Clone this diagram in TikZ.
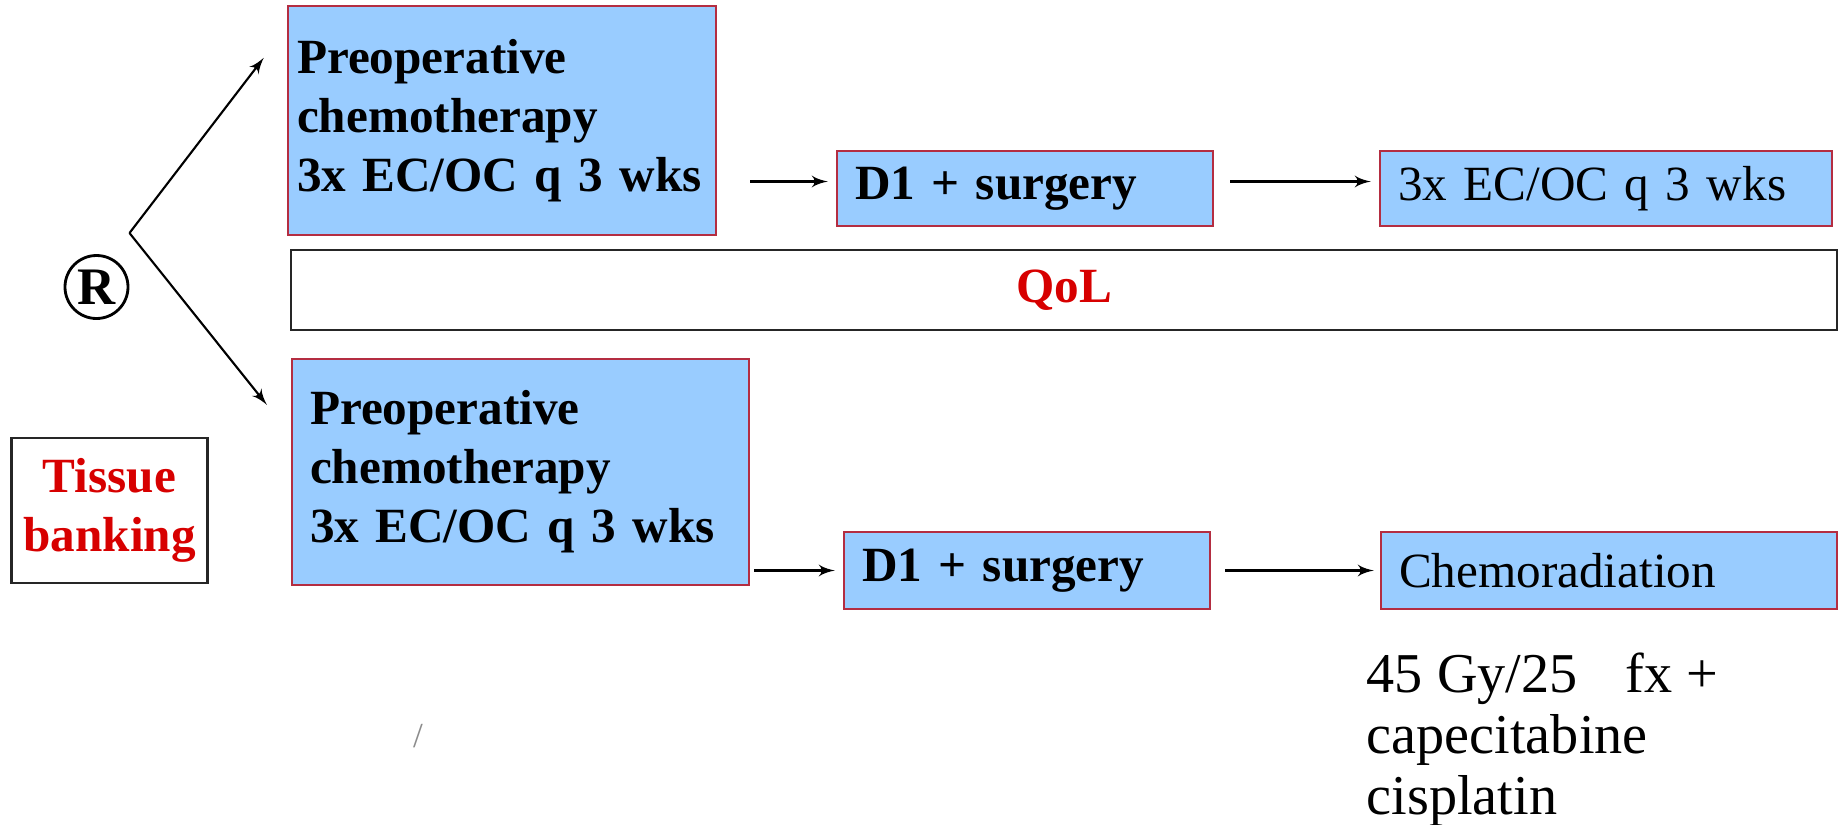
\documentclass[tikz,border=0pt]{standalone}
\usepackage{fontspec}
\setmainfont{Liberation Serif}
\usepackage{tikz}
\usetikzlibrary{arrows, positioning}
\definecolor{boxblue}{RGB}{153,204,255}
\definecolor{boxred}{RGB}{180,45,65}
\definecolor{labelred}{RGB}{215,0,0}
\tikzstyle{arm} =
[rectangle, draw=boxred, fill=boxblue, line width=0.7pt, inner xsep=0.18cm,
align=left, font=\fontsize{14}{16.8}\selectfont\bfseries]
\tikzstyle{armplain} =
[arm, font=\fontsize{14}{16.8}\selectfont]
\tikzstyle{frame} =
[rectangle, draw=black!85, line width=0.7pt, text=labelred, align=center,
font=\fontsize{14}{16.8}\selectfont\bfseries]
\tikzstyle{rand} =
[circle, draw=black, line width=0.8pt, minimum size=0.63cm, inner sep=0pt,
font=\fontsize{15}{18}\selectfont\bfseries]
\tikzstyle{line} = [draw, line width=0.6pt, -latex']

\begin{document}
\begin{tikzpicture}
  \useasboundingbox (0,0) rectangle (18.46,-8.25);
  % randomisation
  \node [rand] (R) at (0.965,-2.87) {R};
  \coordinate (fork) at (1.295,-2.33);
  \node [frame, minimum width=1.91cm, minimum height=1.45cm] (tissue)
   at (1.095,-5.105) {Tissue\\ banking};
  % upper arm
  \node [arm, text width=4.10cm, inner xsep=0.09cm, minimum height=2.29cm]
   (pre1) at (5.02,-1.205) {Preoperative\\ chemotherapy\\ 3x EC/OC q 3 wks};
  \node [arm, text width=3.40cm, minimum height=0.75cm] (sur1) at (10.25,-1.885)
   {D1 + surgery};
  \node [armplain, text width=4.16cm, minimum height=0.75cm, right of=sur1,
   node distance=5.81cm] (adj1) {3x EC/OC q 3 wks};
  % quality of life
  \node [frame, minimum width=15.46cm, minimum height=0.80cm] (qol)
   at (10.64,-2.90) {QoL};
  % lower arm
  \node [arm, text width=4.21cm, minimum height=2.26cm] (pre2) at (5.205,-4.72)
   {Preoperative\\ chemotherapy\\ 3x EC/OC q 3 wks};
  \node [arm, text width=3.30cm, minimum height=0.77cm] (sur2) at (10.27,-5.705)
   {D1 + surgery};
  \node [armplain, text width=4.20cm, minimum height=0.77cm, right of=sur2,
   node distance=5.82cm] (crt) {Chemoradiation};
  \node [anchor=north west, inner sep=0pt, align=left,
   font=\fontsize{16}{17.4}\selectfont] (crtext) at (13.66,-6.52)
   {45 Gy/25\hspace{0.6em} fx +\\ capecitabine\\ cisplatin};
  \node [text=black!45, font=\fontsize{10}{12}\selectfont] (mark)
   at (4.18,-7.36) {/};
  % edges
  \path [line] (fork) -- ([xshift=-0.23cm, yshift=-0.53cm] pre1.north west);
  \path [line] (fork) -- ([xshift=-0.24cm, yshift=-0.47cm] pre2.north west);
  \path [line, shorten <=0.33cm, shorten >=0.08cm]
   ([yshift=0.07cm] pre1.east |- sur1.west) -- ([yshift=0.07cm] sur1.west);
  \path [line, shorten <=0.16cm, shorten >=0.08cm]
   ([yshift=0.07cm] sur1.east) -- ([yshift=0.07cm] adj1.west);
  \path [line, shorten <=0.04cm, shorten >=0.08cm] (pre2.east |- sur2.west)
   -- (sur2.west);
  \path [line, shorten <=0.14cm, shorten >=0.06cm] (sur2) -- (crt);
\end{tikzpicture}
\end{document}
